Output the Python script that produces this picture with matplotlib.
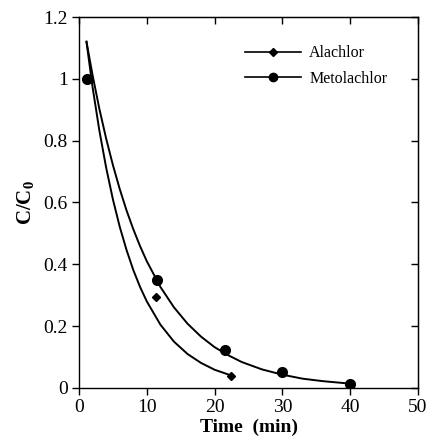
import matplotlib
matplotlib.use("Agg")
import matplotlib.pyplot as plt
from matplotlib.lines import Line2D

plt.rcParams['font.family'] = ['Liberation Serif', 'DejaVu Serif']
plt.rcParams['mathtext.fontset'] = 'custom'
plt.rcParams['mathtext.rm'] = 'Liberation Serif'
plt.rcParams['mathtext.bf'] = 'Liberation Serif:bold'
plt.rcParams['mathtext.it'] = 'Liberation Serif:italic'

# measured points
ala_t = [1.2, 11.4, 22.4]
ala_c = [1.0, 0.293, 0.039]
met_t = [1.2, 11.5, 21.5, 29.9, 39.9]
met_c = [1.0, 0.35, 0.123, 0.051, 0.013]

# fitted curves
ala_fit_t = [1.1, 2, 3, 4, 5, 6, 7, 8, 9, 10, 12, 14, 16, 18, 20, 22.5]
ala_fit_c = [1.12, 0.973, 0.833, 0.713, 0.610, 0.522, 0.447, 0.382, 0.327,
             0.280, 0.205, 0.150, 0.110, 0.081, 0.059, 0.040]
met_fit_t = [1.1, 2, 3, 4, 5, 6, 7, 8, 9, 10, 12, 14, 16, 18, 20, 22, 24,
             27, 30, 33, 36, 40]
met_fit_c = [1.12, 1.012, 0.903, 0.807, 0.721, 0.644, 0.575, 0.514, 0.459,
             0.410, 0.327, 0.261, 0.208, 0.166, 0.132, 0.106, 0.084, 0.060,
             0.043, 0.030, 0.022, 0.014]

labels = ['Alachlor', 'Metolachlor']
xticks = [0, 10, 20, 30, 40, 50]
yticks = [0, 0.2, 0.4, 0.6, 0.8, 1.0, 1.2]
yticklabels = ['0', '0.2', '0.4', '0.6', '0.8', '1', '1.2']

fig = plt.figure(figsize=(4.32, 4.43), dpi=100)
ax = fig.add_axes([0.1829, 0.1242, 0.7847, 0.8374])

ax.plot(ala_fit_t, ala_fit_c, color='black', lw=1.4)
ax.plot(met_fit_t, met_fit_c, color='black', lw=1.4)
ax.plot(ala_t, ala_c, linestyle='none', marker='D', ms=4.5, color='black')
ax.plot(met_t, met_c, linestyle='none', marker='o', ms=7, color='black')

ax.set_xlim(0, 50)
ax.set_ylim(0, 1.2)
ax.set_xticks(xticks)
ax.set_yticks(yticks)
ax.set_yticklabels(yticklabels)
ax.tick_params(direction='out', length=5, width=1, labelsize=14, pad=3)
for s in ax.spines.values():
    s.set_linewidth(1)

sx = ax.secondary_xaxis('top')
sx.set_xticks(xticks)
sx.tick_params(direction='in', length=5, width=1, labeltop=False)
sy = ax.secondary_yaxis('right')
sy.set_yticks(yticks)
sy.tick_params(direction='in', length=5, width=1, labelright=False)

ax.set_xlabel('Time  (min)', fontsize=14, fontweight='bold', labelpad=2)
ax.set_ylabel(r'$\mathbf{C/C_0}$', fontsize=15, labelpad=5)

handles = [
    Line2D([], [], color='black', lw=1.2, marker='D', ms=4, markevery=[1]),
    Line2D([], [], color='black', lw=1.2, marker='o', ms=6, markevery=[1]),
]
for h in handles:
    h.set_xdata([0, 0.5, 1])
    h.set_ydata([0, 0, 0])
leg = ax.legend(handles, labels, loc='upper left', bbox_to_anchor=(0.448, 0.962),
                frameon=False, fontsize=11.5, handlelength=3.5, handletextpad=0.5,
                labelspacing=0.6)

fig.savefig('out.png', dpi=100)
